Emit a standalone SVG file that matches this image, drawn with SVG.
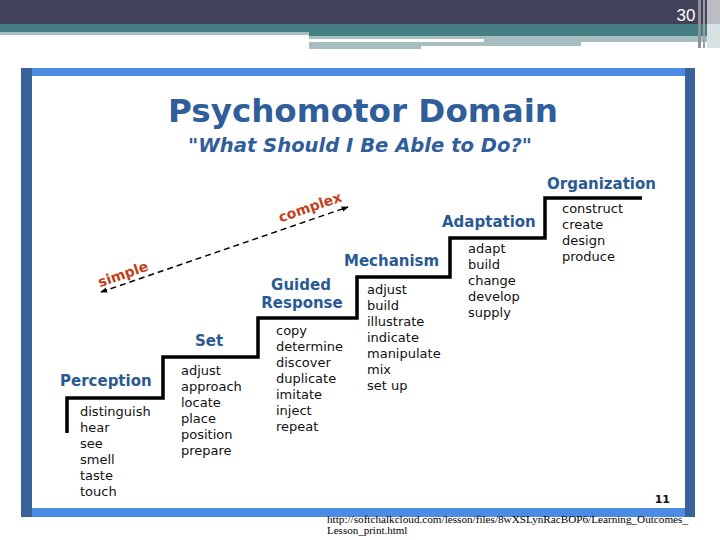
<svg xmlns="http://www.w3.org/2000/svg" width="720" height="540" viewBox="0 0 720 540">
<defs>
<style>
.lvl{font-family:"DejaVu Sans",Verdana,sans-serif;font-weight:bold;font-size:15px;fill:#2a5a93}
.w{font-family:"DejaVu Sans",Verdana,sans-serif;font-size:13px;fill:#111}
.red{font-family:"DejaVu Sans",Verdana,sans-serif;font-weight:bold;font-size:14px;fill:#c43f1c}
.url{font-family:"Liberation Serif","Times New Roman",serif;font-size:11px;fill:#000}
</style>
<marker id="ah" viewBox="0 0 10 10" refX="9" refY="5" markerWidth="7" markerHeight="7" markerUnits="userSpaceOnUse" orient="auto-start-reverse">
<path d="M0,1 L10,5 L0,9 z" fill="#000"/>
</marker>
</defs>
<rect width="720" height="540" fill="#fff"/>
<g id="header">
<rect x="0" y="0" width="720" height="24" fill="#42425a"/>
<rect x="0" y="24" width="720" height="8" fill="#457f83"/>
<rect x="309" y="32" width="411" height="4" fill="#457f83"/>
<rect x="0" y="32" width="309" height="3" fill="#a6c0c1"/>
<rect x="309" y="36" width="411" height="3" fill="#a6c0c1"/>
<rect x="484" y="39" width="236" height="3" fill="#a6c0c1"/>
<rect x="309" y="42" width="112" height="7" fill="#a6bebf"/>
<rect x="421" y="42" width="160" height="4" fill="#a6bebf"/>
<rect x="698" y="0" width="3" height="48" fill="#8e8e9c"/>
<rect x="703" y="0" width="2" height="48" fill="#9c9ca6"/>
<rect x="707" y="0" width="13" height="24" fill="#bcbcc4"/>
<rect x="707" y="24" width="13" height="24" fill="#d6e2e2"/>
<text x="686" y="21" text-anchor="middle" font-family="'Liberation Sans Narrow','Liberation Sans',sans-serif" font-size="17" fill="#fff">30</text>
</g>
<g id="frame">
<rect x="21" y="68" width="664" height="8" fill="#4b8be4"/>
<rect x="21" y="68" width="11" height="449" fill="#38629a"/>
<rect x="685" y="68" width="10" height="449" fill="#38629a"/>
<rect x="32" y="508" width="653" height="9" fill="#4b8be4"/>
</g>
<g id="title">
<text x="363" y="122" text-anchor="middle" font-family="'DejaVu Sans',Verdana,sans-serif" font-weight="bold" font-size="32.5" fill="#2f5e9a" textLength="390" lengthAdjust="spacingAndGlyphs">Psychomotor Domain</text>
<text x="360" y="152" text-anchor="middle" font-family="'DejaVu Sans',Verdana,sans-serif" font-weight="bold" font-style="italic" font-size="19" fill="#2f5e9a" textLength="344" lengthAdjust="spacingAndGlyphs">"What Should I Be Able to Do?"</text>
</g>
<g id="stairs">
<path d="M67,433 V398 H163 V357 H258 V318 H357 V277 H450 V238 H545 V198 H642" fill="none" stroke="#000" stroke-width="3.5" stroke-linejoin="miter"/>
</g>
<g id="connectors">
<line x1="101" y1="292" x2="348" y2="207" stroke="#000" stroke-width="1.4" stroke-dasharray="6,4" marker-start="url(#ah)" marker-end="url(#ah)"/>
<text class="red" x="310" y="212" text-anchor="middle" transform="rotate(-19 310 207)">complex</text>
<text class="red" x="123" y="279" text-anchor="middle" transform="rotate(-19 123 274)">simple</text>
</g>
<g id="perception">
<text class="lvl" x="60" y="386">Perception</text>
<text class="w" x="80" y="416">distinguish</text>
<text class="w" x="80" y="432">hear</text>
<text class="w" x="80" y="448">see</text>
<text class="w" x="80" y="464">smell</text>
<text class="w" x="80" y="480">taste</text>
<text class="w" x="80" y="496">touch</text>
</g>
<g id="set">
<text class="lvl" x="195" y="346">Set</text>
<text class="w" x="181" y="375">adjust</text>
<text class="w" x="181" y="391">approach</text>
<text class="w" x="181" y="407">locate</text>
<text class="w" x="181" y="423">place</text>
<text class="w" x="181" y="439">position</text>
<text class="w" x="181" y="455">prepare</text>
</g>
<g id="guided-response">
<text class="lvl" x="301" y="290" text-anchor="middle">Guided</text>
<text class="lvl" x="302" y="308" text-anchor="middle">Response</text>
<text class="w" x="276" y="335">copy</text>
<text class="w" x="276" y="351">determine</text>
<text class="w" x="276" y="367">discover</text>
<text class="w" x="276" y="383">duplicate</text>
<text class="w" x="276" y="399">imitate</text>
<text class="w" x="276" y="415">inject</text>
<text class="w" x="276" y="431">repeat</text>
</g>
<g id="mechanism">
<text class="lvl" x="344" y="266">Mechanism</text>
<text class="w" x="367" y="294">adjust</text>
<text class="w" x="367" y="310">build</text>
<text class="w" x="367" y="326">illustrate</text>
<text class="w" x="367" y="342">indicate</text>
<text class="w" x="367" y="358">manipulate</text>
<text class="w" x="367" y="374">mix</text>
<text class="w" x="367" y="390">set up</text>
</g>
<g id="adaptation">
<text class="lvl" x="442" y="227">Adaptation</text>
<text class="w" x="468" y="253">adapt</text>
<text class="w" x="468" y="269">build</text>
<text class="w" x="468" y="285">change</text>
<text class="w" x="468" y="301">develop</text>
<text class="w" x="468" y="317">supply</text>
</g>
<g id="organization">
<text class="lvl" x="547" y="189">Organization</text>
<text class="w" x="562" y="213">construct</text>
<text class="w" x="562" y="229">create</text>
<text class="w" x="562" y="245">design</text>
<text class="w" x="562" y="261">produce</text>
</g>
<g id="footer">
<text x="670" y="503" text-anchor="end" font-family="'DejaVu Sans',Verdana,sans-serif" font-weight="bold" font-size="11" fill="#111">11</text>
<text class="url" x="327" y="523" textLength="361" lengthAdjust="spacingAndGlyphs">http://softchalkcloud.com/lesson/files/8wXSLynRacBOP6/Learning_Outcomes_</text>
<text class="url" x="327" y="534">Lesson_print.html</text>
</g>
</svg>
